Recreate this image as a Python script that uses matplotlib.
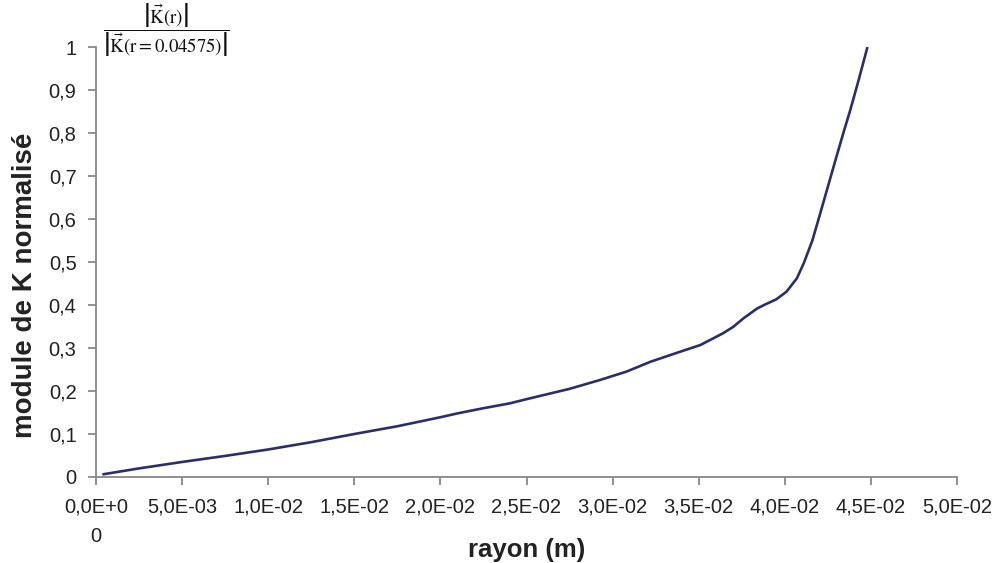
import matplotlib
matplotlib.use('Agg')
import matplotlib.pyplot as plt

# values
rayon = [0.00037, 0.0025, 0.005, 0.0075, 0.010, 0.0125, 0.015, 0.0175, 0.020, 0.021,
         0.0225, 0.024, 0.025, 0.0275, 0.0293, 0.0308, 0.0322, 0.0336, 0.0351,
         0.0364, 0.0370, 0.0376, 0.0384, 0.0389, 0.0395, 0.0401, 0.0407, 0.0411,
         0.0416, 0.0420, 0.0425, 0.0430, 0.0434, 0.0438, 0.0443, 0.0448]
module_k = [0.006, 0.020, 0.035, 0.049, 0.064, 0.081, 0.100, 0.118, 0.139, 0.148,
            0.160, 0.171, 0.181, 0.205, 0.226, 0.245, 0.268, 0.287, 0.307,
            0.334, 0.349, 0.369, 0.392, 0.402, 0.413, 0.431, 0.462, 0.497,
            0.550, 0.605, 0.675, 0.745, 0.800, 0.853, 0.925, 1.000]

xticks = [0.0, 0.005, 0.010, 0.015, 0.020, 0.025, 0.030, 0.035, 0.040, 0.045, 0.050]
xtick_labels = ['0,0E+0\n0', '5,0E-03', '1,0E-02', '1,5E-02', '2,0E-02', '2,5E-02',
                '3,0E-02', '3,5E-02', '4,0E-02', '4,5E-02', '5,0E-02']
yticks = [0, 0.1, 0.2, 0.3, 0.4, 0.5, 0.6, 0.7, 0.8, 0.9, 1.0]
ytick_labels = ['0', '0,1', '0,2', '0,3', '0,4', '0,5', '0,6', '0,7', '0,8', '0,9', '1']

plt.rcParams['font.family'] = ['Liberation Sans', 'DejaVu Sans']
plt.rcParams['mathtext.fontset'] = 'stix'

fig = plt.figure(figsize=(9.98, 5.63), dpi=100)
ax = fig.add_axes([96 / 998, 1 - 477 / 563, (957 - 96) / 998, (477 - 47) / 563])

ax.plot(rayon, module_k, color='#2b2e6b', linewidth=1.9, solid_capstyle='butt',
        solid_joinstyle='round')

ax.set_xlim(0, 0.05)
ax.set_ylim(0, 1)
ax.set_xticks(xticks)
ax.set_xticklabels(xtick_labels, fontsize=14.5, color='#222222', linespacing=1.65)
ax.set_yticks(yticks)
ax.set_yticklabels(ytick_labels, fontsize=14.5, color='#222222')
ax.xaxis.get_ticklabels()[0].set_multialignment('center')

ax.spines['top'].set_visible(False)
ax.spines['right'].set_visible(False)
for s in ['left', 'bottom']:
    ax.spines[s].set_color('#888888')
    ax.spines[s].set_linewidth(1.3)
ax.tick_params(axis='both', direction='out', length=6, width=1.3, color='#888888')
ax.tick_params(axis='x', pad=9)
ax.tick_params(axis='y', pad=8)

ax.set_xlabel('rayon (m)', fontsize=18.5, fontweight='bold', color='#222222')
ax.xaxis.label.set_va('center')
ax.xaxis.set_label_coords(0.5, -0.17)
ax.set_ylabel('module de K normalisé', fontsize=20, fontweight='bold', color='#222222')
ax.yaxis.label.set_va('center')
ax.yaxis.set_label_coords(-0.082, 0.4465)

fig.text(166 / 998, 1 - 30 / 563,
         r'$\dfrac{\left|\vec{\mathrm{K}}(\mathrm{r})\right|}{\left|\vec{\mathrm{K}}(\mathrm{r}=0.04575)\right|}$',
         fontsize=13.5, ha='center', va='center', color='#111111')

fig.savefig('out.png', dpi=100)
